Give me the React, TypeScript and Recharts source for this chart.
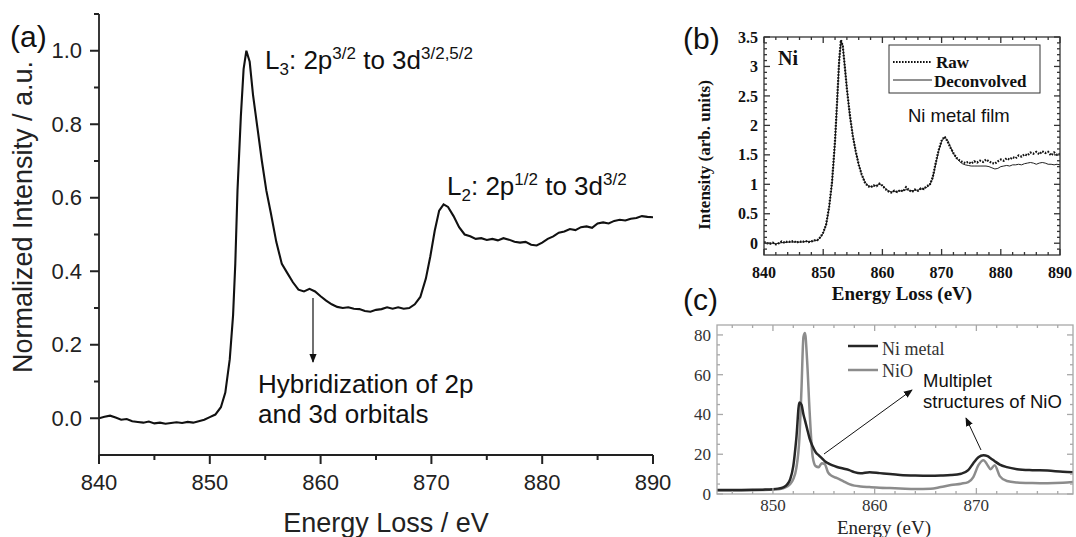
import React from "react";
import { LineChart, Line, XAxis, YAxis } from "recharts";

const SANS = "'Liberation Sans', Arial, sans-serif";
const SERIF = "'Liberation Serif', 'Times New Roman', serif";

// (a) Ni L2,3 edge, normalized
const energyA = [
  840, 840.5, 841, 841.5, 842, 842.5, 843, 843.5, 844, 844.5, 845, 845.5, 846, 846.5, 847, 847.5,
  848, 848.5, 849, 849.5, 850, 850.5, 851, 851.4, 851.8, 852.1, 852.3, 852.5, 852.8, 853.05, 853.3,
  853.6, 853.9, 854.3, 854.7, 855.1, 855.5, 856, 856.5, 857, 857.5, 858, 858.5, 859, 859.5, 860,
  860.5, 861, 861.5, 862, 862.5, 863, 863.5, 864, 864.5, 865, 865.5, 866, 866.5, 867, 867.5, 868,
  868.5, 869, 869.5, 869.9, 870.3, 870.7, 871.1, 871.5, 872, 872.5, 873, 873.5, 874, 874.5, 875,
  875.5, 876, 876.5, 877, 877.5, 878, 878.5, 879, 879.5, 880, 880.5, 881, 881.5, 882, 882.5, 883,
  883.5, 884, 884.5, 885, 885.5, 886, 886.5, 887, 887.5, 888, 888.5, 889, 889.5, 890,
];
const intensityA = [
  0.0, 0.004, 0.007, 0.002, -0.004, -0.002, -0.008, -0.01, -0.012, -0.009, -0.014, -0.012, -0.015,
  -0.013, -0.011, -0.013, -0.01, -0.012, -0.008, -0.004, 0.003, 0.01, 0.03, 0.07, 0.16, 0.28, 0.42,
  0.62, 0.82, 0.95, 1.0, 0.97, 0.88, 0.79, 0.7, 0.62, 0.56, 0.48, 0.42, 0.395, 0.37, 0.35, 0.345,
  0.352, 0.345, 0.332, 0.32, 0.31, 0.303, 0.3, 0.302, 0.298, 0.297, 0.292, 0.29, 0.295, 0.297, 0.302,
  0.298, 0.302, 0.298, 0.3, 0.31, 0.33, 0.38, 0.44, 0.51, 0.565, 0.582, 0.575, 0.55, 0.52, 0.5,
  0.495, 0.488, 0.49, 0.485, 0.488, 0.484, 0.49, 0.486, 0.48, 0.478, 0.48, 0.472, 0.47, 0.478, 0.488,
  0.495, 0.505, 0.508, 0.515, 0.512, 0.52, 0.522, 0.518, 0.53, 0.533, 0.53, 0.537, 0.54, 0.538,
  0.543, 0.545, 0.55, 0.548, 0.547,
];
const xMajorA = [840, 850, 860, 870, 880, 890];
const xMinorA = [845, 855, 865, 875, 885];
const yMajorA = [0, 0.2, 0.4, 0.6, 0.8, 1.0];
const yMinorA = [0.1, 0.3, 0.5, 0.7, 0.9, 1.1];

// (b) Ni metal film, raw vs deconvolved
const energyB = [
  840, 840.5, 841, 841.5, 842, 842.5, 843, 843.5, 844, 844.5, 845, 845.5, 846, 846.5, 847, 847.5,
  848, 848.5, 849, 849.5, 850, 850.5, 851, 851.5, 852, 852.4, 852.7, 853, 853.3, 853.6, 854, 854.5,
  855, 855.5, 856, 856.5, 857, 857.5, 858, 858.5, 859, 859.5, 860, 860.5, 861, 861.5, 862, 862.5,
  863, 863.5, 864, 864.5, 865, 865.5, 866, 866.5, 867, 867.5, 868, 868.5, 869, 869.5, 870, 870.5,
  871, 871.5, 872, 872.5, 873, 873.5, 874, 874.5, 875, 875.5, 876, 876.5, 877, 877.5, 878, 878.5,
  879, 879.5, 880, 880.5, 881, 881.5, 882, 882.5, 883, 883.5, 884, 884.5, 885, 885.5, 886, 886.5,
  887, 887.5, 888, 888.5, 889, 889.5, 890,
];
const rawB = [
  0.02, 0.0, -0.01, 0.01, -0.02, 0.0, 0.03, 0.01, 0.03, 0.02, 0.04, 0.01, 0.03, 0.02, 0.04, 0.02,
  0.03, 0.05, 0.05, 0.1, 0.18, 0.32, 0.62, 1.05, 1.75, 2.5, 3.1, 3.45, 3.35, 3.05, 2.62, 2.18, 1.82,
  1.56, 1.33, 1.17, 1.04, 0.97, 0.95, 0.98, 0.97, 1.01, 0.98, 0.92, 0.88, 0.86, 0.89, 0.87, 0.9,
  0.88, 0.95, 0.9, 0.87, 0.91, 0.89, 0.93, 0.92, 0.97, 0.99, 1.12, 1.36, 1.58, 1.74, 1.81, 1.73,
  1.62, 1.53, 1.45, 1.41, 1.38, 1.36, 1.38, 1.35, 1.39, 1.37, 1.4, 1.38, 1.42, 1.39, 1.36, 1.35,
  1.39, 1.42, 1.4, 1.44, 1.42, 1.46, 1.44, 1.49, 1.47, 1.51, 1.49, 1.54, 1.52, 1.55, 1.51, 1.56,
  1.53, 1.55, 1.49, 1.54, 1.5, 1.52,
];
const deconvB = [
  0.01, 0.0, 0.0, 0.0, -0.01, 0.0, 0.01, 0.01, 0.02, 0.02, 0.02, 0.02, 0.02, 0.02, 0.03, 0.03, 0.03,
  0.04, 0.05, 0.09, 0.17, 0.31, 0.6, 1.02, 1.72, 2.48, 3.08, 3.44, 3.36, 3.06, 2.63, 2.17, 1.83,
  1.55, 1.34, 1.16, 1.05, 0.98, 0.96, 0.97, 0.98, 1.0, 0.98, 0.93, 0.89, 0.87, 0.88, 0.88, 0.89,
  0.89, 0.91, 0.9, 0.89, 0.9, 0.9, 0.92, 0.93, 0.95, 0.99, 1.1, 1.34, 1.56, 1.73, 1.8, 1.75, 1.63,
  1.52, 1.45, 1.39, 1.35, 1.33, 1.32, 1.31, 1.31, 1.31, 1.31, 1.31, 1.31, 1.3, 1.28, 1.26, 1.27,
  1.3, 1.31, 1.32, 1.31, 1.33, 1.33, 1.34, 1.33, 1.35, 1.36, 1.37, 1.36, 1.34, 1.36, 1.37, 1.36,
  1.34, 1.34, 1.33, 1.34, 1.33,
];
const xMajorB = [840, 850, 860, 870, 880, 890];
const xMinorB = [
  842, 844, 846, 848, 852, 854, 856, 858, 862, 864, 866, 868, 872, 874, 876, 878, 882, 884, 886, 888,
];
const yMajorB = [0, 0.5, 1, 1.5, 2, 2.5, 3, 3.5];
const yMinorB = [
  -0.1, 0.1, 0.2, 0.3, 0.4, 0.6, 0.7, 0.8, 0.9, 1.1, 1.2, 1.3, 1.4, 1.6, 1.7, 1.8, 1.9, 2.1, 2.2,
  2.3, 2.4, 2.6, 2.7, 2.8, 2.9, 3.1, 3.2, 3.3, 3.4,
];

// (c) Ni metal vs NiO
const energyC = [
  844.5, 846, 848, 849, 850, 850.5, 851, 851.4, 851.7, 852, 852.3, 852.6, 852.8, 853, 853.15,
  853.35, 853.6, 853.9, 854.2, 854.5, 854.8, 855.1, 855.4, 855.8, 856.3, 856.9, 857.5, 858, 858.6,
  859.5, 860.5, 861.5, 862.5, 864, 865.5, 866.5, 867.5, 868.5, 869.2, 869.7, 870.2, 870.7, 871.1,
  871.4, 871.8, 872.3, 873, 874, 875.5, 877, 878.5, 879.5,
];
const niMetalC = [
  2.0, 2.0, 2.1, 2.2, 2.4, 2.7, 3.3, 4.8, 7.5, 14, 28, 46, 45, 40, 37, 33, 28, 24, 21, 19.5, 18,
  16.5, 15.5, 14.5, 13.6, 12.8, 12, 11, 10.4, 11, 10.5, 10, 9.6, 9.3, 9.2, 9.3, 9.5, 10.2, 12, 15.5,
  18.5, 19.5, 19, 18, 16.5, 14.8, 13.5, 12.5, 12, 11.8, 11.2, 11,
];
const niOC = [
  1.8, 1.8, 1.9, 2.0, 2.2, 2.4, 2.9, 3.8, 5.0, 7.5, 13, 28, 52, 79, 81, 68, 42, 19, 14, 13.5, 15.5,
  15, 11, 9, 8, 6.5, 5, 4.2, 3.8, 3.5, 3.2, 3.0, 2.8, 2.5, 2.6, 3.5, 4.5, 5.2, 6, 8.5, 14.5, 17,
  14.5, 12.5, 14.5, 9, 6.5, 5.8, 5.5, 5.4, 5.6, 6,
];
const xMajorC = [850, 860, 870];
const xMinorC = [846, 848, 852, 854, 856, 858, 862, 864, 866, 868, 872, 874, 876, 878];
const yMajorC = [0, 20, 40, 60, 80];
const yMinorC = [5, 10, 15, 25, 30, 35, 45, 50, 55, 65, 70, 75];

const rowsA = energyA.map((e, i) => ({ e, v: intensityA[i] }));
const rowsB = energyB.map((e, i) => ({ e, raw: rawB[i], dec: deconvB[i] }));
const rowsC = energyC.map((e, i) => ({ e, metal: niMetalC[i], nio: niOC[i] }));

// plot boxes on the page (px) and their domains; chart margins are derived from these
type Geo = { x0: number; x1: number; y0: number; y1: number; xd: [number, number]; yd: [number, number] };
const geoA: Geo = { x0: 99, x1: 653, y0: 14, y1: 455, xd: [840, 890], yd: [-0.1, 1.1] };
const geoB: Geo = { x0: 764, x1: 1060, y0: 37, y1: 255, xd: [840, 890], yd: [-0.2, 3.5] };
const geoC: Geo = { x0: 717, x1: 1073, y0: 325, y1: 494, xd: [844.5, 879.5], yd: [0, 85] };

const px = (g: Geo, v: number) => g.x0 + ((v - g.xd[0]) / (g.xd[1] - g.xd[0])) * (g.x1 - g.x0);
const py = (g: Geo, v: number) => g.y1 - ((v - g.yd[0]) / (g.yd[1] - g.yd[0])) * (g.y1 - g.y0);

type Box = { x: number; y: number; w: number; h: number };

// tick marks as thin filled boxes; inward = all four sides of a frame, else outward bottom/left
const tickBoxes = (g: Geo, xs: number[], ys: number[], len: number, t: number, inward: boolean): Box[] => {
  const out: Box[] = [];
  xs.forEach((v) => {
    const x = px(g, v) - t / 2;
    if (inward) {
      out.push({ x, y: g.y1 - len, w: t, h: len });
      out.push({ x, y: g.y0, w: t, h: len });
    } else {
      out.push({ x, y: g.y1, w: t, h: len });
    }
  });
  ys.forEach((v) => {
    const y = py(g, v) - t / 2;
    if (inward) {
      out.push({ x: g.x0, y, w: len, h: t });
      out.push({ x: g.x1 - len, y, w: len, h: t });
    } else {
      out.push({ x: g.x0 - len, y, w: len, h: t });
    }
  });
  return out;
};

const TickMarks = ({ boxes, color }: { boxes: Box[]; color: string }) => (
  <g fill={color}>
    {boxes.map((b, i) => (
      <rect key={i} x={b.x} y={b.y} width={b.w} height={b.h} />
    ))}
  </g>
);

// label-only tick renderers, anchored on the axis line (tickSize 0)
const bottomLabel = (dy: number, font: object) => (props: any) => (
  <text x={props.x} y={props.y + dy} textAnchor="middle" {...font}>
    {String(props.payload.value)}
  </text>
);
const leftLabel = (dx: number, font: object, fmt: (v: number) => string) => (props: any) => (
  <text x={props.x - dx} y={props.y} dy="0.35em" textAnchor="end" {...font}>
    {fmt(props.payload.value)}
  </text>
);

const fontA = { fontFamily: SANS, fontSize: 22, fill: "#222" };
const fontB = { fontFamily: SERIF, fontSize: 16, fontWeight: 700, fill: "#111" };
const fontC = { fontFamily: SERIF, fontSize: 17, fill: "#333" };

const num = {
  type: "number" as const,
  interval: 0 as const,
  tickSize: 0,
  tickMargin: 0,
  tickLine: false,
  allowDataOverflow: true,
};

const marginOf = (g: Geo, left: number, top: number, w: number, h: number, yw: number, xh: number) => ({
  left: g.x0 - left - yw,
  right: left + w - g.x1,
  top: g.y0 - top,
  bottom: top + h - g.y1 - xh,
});

const PanelA = () => (
  <LineChart width={680} height={537} data={rowsA} margin={marginOf(geoA, 0, 0, 680, 537, 60, 30)}>
    <XAxis {...num} dataKey="e" domain={geoA.xd} ticks={xMajorA} height={30}
      axisLine={{ stroke: "#222", strokeWidth: 1.8 }} tick={bottomLabel(35, fontA)} />
    <YAxis {...num} domain={geoA.yd} ticks={yMajorA} width={60}
      axisLine={{ stroke: "#222", strokeWidth: 1.8 }} tick={leftLabel(17, fontA, (v) => v.toFixed(1))} />
    <Line dataKey="v" type="linear" stroke="#111" strokeWidth={2.1} dot={false} isAnimationActive={false} />
  </LineChart>
);

const PanelB = () => (
  <LineChart width={396} height={290} data={rowsB} margin={marginOf(geoB, 680, 0, 396, 290, 40, 30)}>
    <XAxis {...num} dataKey="e" domain={geoB.xd} ticks={xMajorB} height={30} axisLine={false}
      tick={bottomLabel(23, fontB)} />
    <YAxis {...num} domain={geoB.yd} ticks={yMajorB} width={40} axisLine={false}
      tick={leftLabel(6, fontB, (v) => String(v))} />
    <Line dataKey="dec" type="linear" stroke="#222" strokeWidth={1} dot={false} isAnimationActive={false} />
    <Line dataKey="raw" type="linear" stroke="#111" strokeWidth={2.2} strokeDasharray="1.6 1.4"
      dot={false} isAnimationActive={false} />
  </LineChart>
);

const PanelC = () => (
  <LineChart width={396} height={237} data={rowsC} margin={marginOf(geoC, 680, 300, 396, 237, 30, 30)}>
    <XAxis {...num} dataKey="e" domain={geoC.xd} ticks={xMajorC} height={30} axisLine={false}
      tick={bottomLabel(17, fontC)} />
    <YAxis {...num} domain={geoC.yd} ticks={yMajorC} width={30} axisLine={false}
      tick={leftLabel(6, fontC, (v) => String(v))} />
    <Line dataKey="nio" type="monotone" stroke="#8c8c8c" strokeWidth={2.5} dot={false} isAnimationActive={false} />
    <Line dataKey="metal" type="monotone" stroke="#262626" strokeWidth={2.5} dot={false} isAnimationActive={false} />
  </LineChart>
);

const sup = 17;

const Overlay = () => (
  <svg width={1076} height={537} style={{ position: "absolute", left: 0, top: 0, pointerEvents: "none" }}>
    <defs>
      <marker id="head" viewBox="0 0 10 8" refX="9" refY="4" markerWidth="9" markerHeight="8"
        markerUnits="userSpaceOnUse" orient="auto">
        <path d="M0,0 L10,4 L0,8 z" fill="#111" />
      </marker>
    </defs>

    {/* (a) outward ticks */}
    <TickMarks boxes={tickBoxes(geoA, xMajorA, yMajorA, 9, 2, false)} color="#222" />
    <TickMarks boxes={tickBoxes(geoA, xMinorA, yMinorA, 5, 2, false)} color="#222" />

    {/* (b) frame */}
    <rect x={geoB.x0} y={geoB.y0} width={geoB.x1 - geoB.x0} height={geoB.y1 - geoB.y0}
      fill="none" stroke="#333" strokeWidth={1.3} />
    <TickMarks boxes={tickBoxes(geoB, xMajorB, yMajorB, 6, 1.3, true)} color="#333" />
    <TickMarks boxes={tickBoxes(geoB, xMinorB, yMinorB, 3, 1.3, true)} color="#333" />

    {/* (c) frame */}
    <rect x={geoC.x0} y={geoC.y0} width={geoC.x1 - geoC.x0} height={geoC.y1 - geoC.y0}
      fill="none" stroke="#a8a8a8" strokeWidth={1.3} />
    <TickMarks boxes={tickBoxes(geoC, xMajorC, yMajorC, 6, 1.3, true)} color="#a8a8a8" />
    <TickMarks boxes={tickBoxes(geoC, xMinorC, yMinorC, 3, 1.3, true)} color="#a8a8a8" />

    {/* (a) */}
    <text x={10} y={47} fontFamily={SANS} fontSize={30} fill="#111">(a)</text>
    <text transform="translate(32,217) rotate(-90)" textAnchor="middle" fontFamily={SANS} fontSize={27} fill="#222">
      Normalized Intensity / a.u.
    </text>
    <text x={386} y={532} textAnchor="middle" fontFamily={SANS} fontSize={27} fill="#222">
      Energy Loss / eV
    </text>
    <text x={265} y={69} fontFamily={SANS} fontSize={26} fill="#111">
      L<tspan fontSize={sup} dy={6}>3</tspan>
      <tspan dy={-6}>: 2p</tspan>
      <tspan fontSize={sup} dy={-10}>3/2</tspan>
      <tspan dy={10}> to 3d</tspan>
      <tspan fontSize={sup} dy={-10}>3/2,5/2</tspan>
    </text>
    <text x={447} y={195} fontFamily={SANS} fontSize={26} fill="#111">
      L<tspan fontSize={sup} dy={6}>2</tspan>
      <tspan dy={-6}>: 2p</tspan>
      <tspan fontSize={sup} dy={-10}>1/2</tspan>
      <tspan dy={10}> to 3d</tspan>
      <tspan fontSize={sup} dy={-10}>3/2</tspan>
    </text>
    <line x1={313} y1={298} x2={313} y2={362} stroke="#111" strokeWidth={1.2} markerEnd="url(#head)" />
    <text fontFamily={SANS} fontSize={26} fill="#111">
      <tspan x={258} y={393}>Hybridization of 2p</tspan>
      <tspan x={258} y={423}>and 3d orbitals</tspan>
    </text>

    {/* (b) */}
    <text x={683} y={49} fontFamily={SANS} fontSize={30} fill="#111">(b)</text>
    <text x={778} y={65} fontFamily={SERIF} fontSize={20} fontWeight={700} fill="#111">Ni</text>
    <rect x={889} y={45} width={151} height={48} fill="#fff" stroke="#333" strokeWidth={1} />
    <line x1={893} y1={62} x2={932} y2={62} stroke="#111" strokeWidth={2.2} strokeDasharray="1.6 1.4" />
    <text x={936} y={68} fontFamily={SERIF} fontSize={17} fontWeight={700} fill="#111">Raw</text>
    <line x1={893} y1={80} x2={932} y2={80} stroke="#222" strokeWidth={1} />
    <text x={934} y={87} fontFamily={SERIF} fontSize={17} fontWeight={700} fill="#111">Deconvolved</text>
    <text x={908} y={122} fontFamily={SANS} fontSize={18.5} fill="#111">Ni metal film</text>
    <text transform="translate(710,155) rotate(-90)" textAnchor="middle" fontFamily={SERIF} fontSize={17}
      fontWeight={700} fill="#111">
      Intensity (arb. units)
    </text>
    <text x={902} y={300} textAnchor="middle" fontFamily={SERIF} fontSize={19} fontWeight={700} fill="#111">
      Energy Loss (eV)
    </text>

    {/* (c) */}
    <text x={683} y={310} fontFamily={SANS} fontSize={30} fill="#111">(c)</text>
    <line x1={848} y1={346} x2={878} y2={346} stroke="#262626" strokeWidth={2.5} />
    <text x={882} y={355} fontFamily={SERIF} fontSize={18} fill="#333">Ni metal</text>
    <line x1={848} y1={370} x2={878} y2={370} stroke="#8c8c8c" strokeWidth={2.5} />
    <text x={882} y={377} fontFamily={SERIF} fontSize={18} fill="#333">NiO</text>
    <text fontFamily={SANS} fontSize={18.5} fill="#111">
      <tspan x={923} y={387}>Multiplet</tspan>
      <tspan x={923} y={408}>structures of NiO</tspan>
    </text>
    <line x1={824} y1={454} x2={912} y2={390} stroke="#111" strokeWidth={1} markerEnd="url(#head)" />
    <line x1={981} y1={450} x2={966} y2={418} stroke="#111" strokeWidth={1} markerEnd="url(#head)" />
    <text x={884} y={534} textAnchor="middle" fontFamily={SERIF} fontSize={19} fill="#222">
      Energy (eV)
    </text>
  </svg>
);

export default function App() {
  return (
    <div style={{ position: "absolute", left: 0, top: 0, width: 1076, height: 537, background: "#fff" }}>
      <div style={{ position: "absolute", left: 0, top: 0 }}>
        <PanelA />
      </div>
      <div style={{ position: "absolute", left: 680, top: 0 }}>
        <PanelB />
      </div>
      <div style={{ position: "absolute", left: 680, top: 300 }}>
        <PanelC />
      </div>
      <Overlay />
    </div>
  );
}
